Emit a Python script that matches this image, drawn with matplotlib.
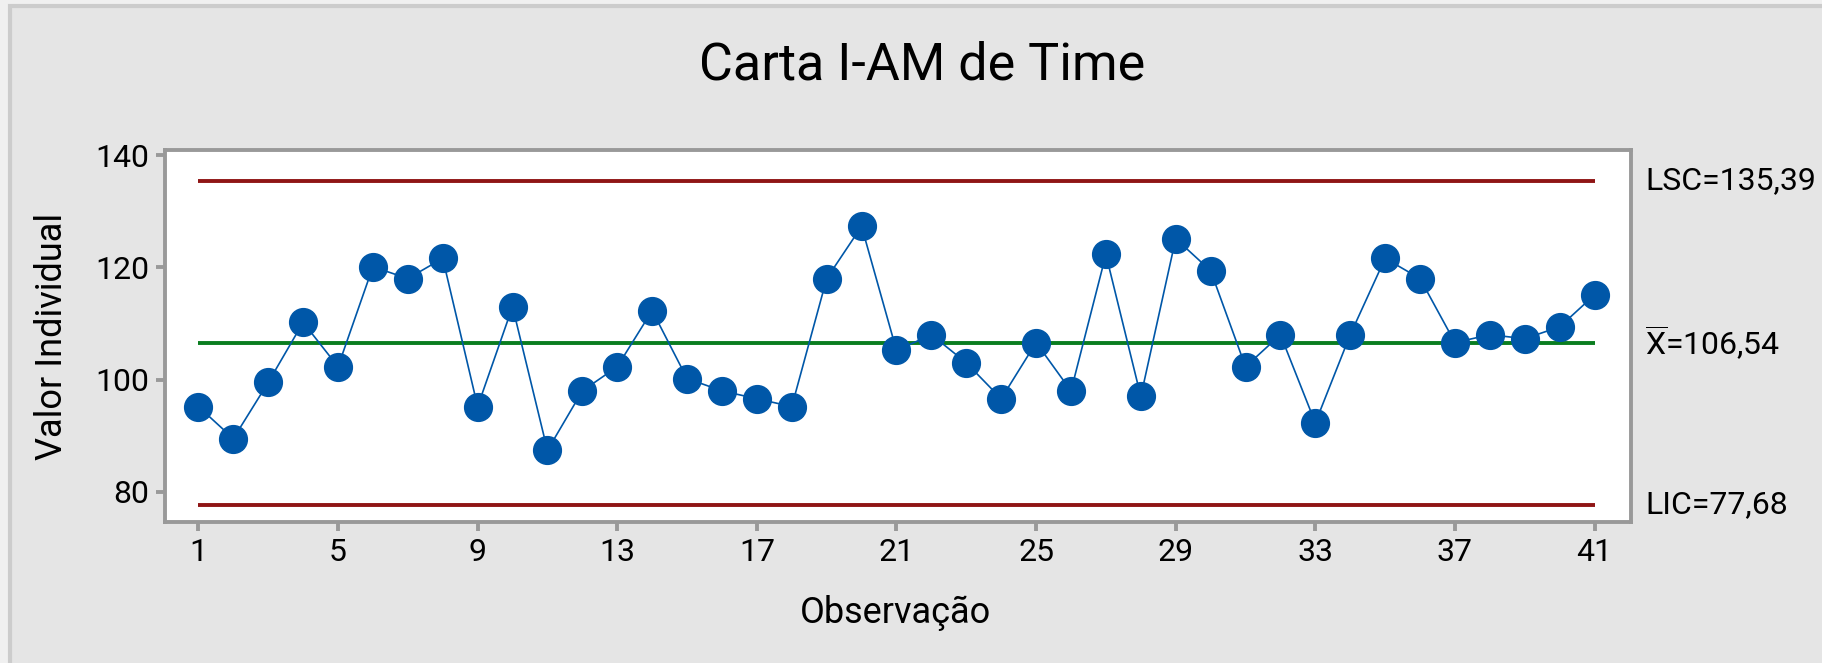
import matplotlib.pyplot as plt
from matplotlib.patches import Rectangle

plt.rcParams['font.family'] = ['Roboto', 'DejaVu Sans']
plt.rcParams['mathtext.fontset'] = 'custom'
plt.rcParams['mathtext.rm'] = 'Roboto'

# Individual values (Carta I)
obs = list(range(1, 42))
values = [95.2, 89.5, 99.5, 110.2, 102.3, 120.1, 118.0, 121.6, 95.2, 113.0,
          87.4, 98.0, 102.3, 112.3, 100.2, 98.0, 96.6, 95.2, 118.0, 127.3,
          105.2, 108.0, 103.0, 96.6, 106.6, 98.0, 122.3, 97.0, 125.1, 119.4,
          102.3, 108.0, 92.3, 108.0, 121.6, 118.0, 106.6, 108.0, 107.3, 109.4,
          115.1]

lsc = 135.39
media = 106.54
lic = 77.68

xticks = [1, 5, 9, 13, 17, 21, 25, 29, 33, 37, 41]
yticks = [80, 100, 120, 140]

gray = '#999999'
blue = '#0057a8'
red = '#8f1515'
green = '#0a7d1f'

fig = plt.figure(figsize=(18.22, 6.63), dpi=100)
fig.patch.set_facecolor('#f0f0f0')
# outer panel with darker border, like the Minitab window
fig.patches.append(Rectangle((9.5 / 1822, -0.05), 1.1, 1.05 - 6 / 663,
                             transform=fig.transFigure, facecolor='#e5e5e5',
                             edgecolor='#cccccc', linewidth=3, zorder=-1))

ax = fig.add_axes([0.0907, 0.2131, 0.8042, 0.5607])
ax.set_facecolor('white')

ax.hlines([lsc, lic], 1, 41, color=red, linewidth=2.8, zorder=2)
ax.hlines(media, 1, 41, color=green, linewidth=2.8, zorder=2)
ax.plot(obs, values, color=blue, linewidth=1.2, marker='o', markersize=20,
        markerfacecolor=blue, markeredgecolor=blue, zorder=3)

ax.set_xlim(0.05, 42.03)
ax.set_ylim(74.7, 140.9)
ax.set_xticks(xticks)
ax.set_yticks(yticks)

for s in ax.spines.values():
    s.set_color(gray)
    s.set_linewidth(2.8)
ax.tick_params(axis='both', direction='out', length=6.5, width=2.8, color=gray,
               labelsize=23, pad=5, labelcolor='black')

ytr = ax.get_yaxis_transform()
ax.text(1.01, lsc, 'LSC=135,39', transform=ytr, ha='left', va='center',
        fontsize=23, clip_on=False)
ax.text(1.01, media, r'$\overline{\mathrm{X}}$=106,54', transform=ytr,
        ha='left', va='center', fontsize=23, clip_on=False)
ax.text(1.01, lic, 'LIC=77,68', transform=ytr, ha='left', va='center',
        fontsize=23, clip_on=False)

fig.text(0.506, 1 - 80 / 663, 'Carta I-AM de Time', ha='center',
         va='baseline', fontsize=37.5)
fig.text(895 / 1822, 1 - 623 / 663, 'Observação', ha='center',
         va='baseline', fontsize=26)
fig.text(52 / 1822, 1 - 336 / 663, 'Valor Individual', ha='center',
         va='center', rotation=90, fontsize=26)

fig.savefig('out.png', dpi=100, facecolor=fig.get_facecolor())
